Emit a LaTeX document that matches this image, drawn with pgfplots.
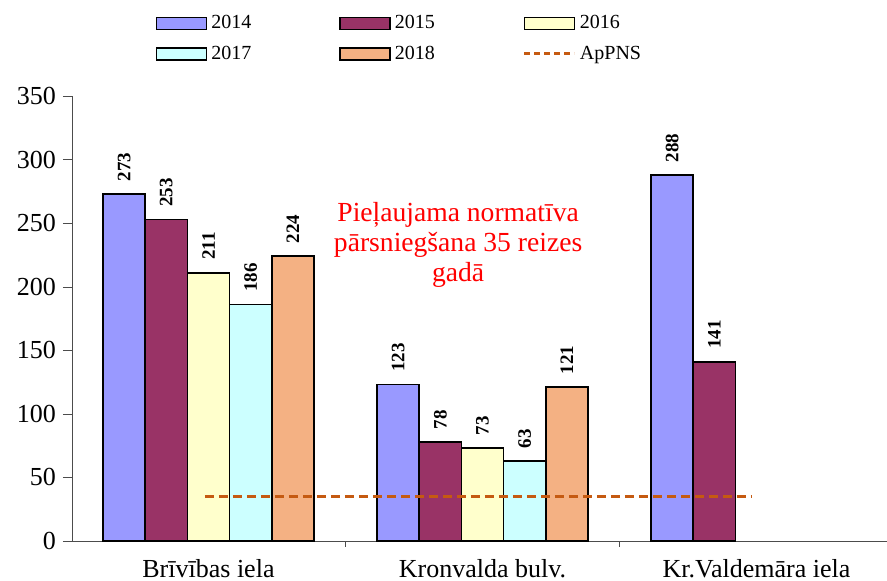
\documentclass[border=0pt]{standalone}
\usepackage{pgfplots}
\pgfplotsset{compat=1.18}
\usepackage{fontspec}
\setmainfont{Liberation Serif}
\definecolor{c14}{HTML}{9999FF}
\definecolor{c15}{HTML}{993366}
\definecolor{c16}{HTML}{FFFFCC}
\definecolor{c17}{HTML}{CCFFFF}
\definecolor{c18}{HTML}{F4B183}
\definecolor{cap}{HTML}{C55A11}
\begin{document}
\begin{tikzpicture}
\begin{axis}[
  scale only axis,
  anchor=south west, at={(0,0)},
  width=407.5pt, height=222.5pt,
  xmin=-0.498, xmax=2.476,
  ymin=0, ymax=350,
  axis x line=bottom, axis y line=left,
  axis line style={-, black!70},
  ytick={0,50,...,350},
  ytick style={black!70},
  tick align=outside,
  major tick length=4.5pt,
  xtick={0,1,2},
  xticklabels={Brīvības iela, Kronvalda bulv., Kr.Valdemāra iela},
  major x tick style={draw=none},
  minor xtick={0.5,1.5},
  minor tick length=3pt,
  minor x tick style={black!70},
  /pgf/number format/assume math mode=true,
  yticklabel style={font=\fontsize{13}{15}\selectfont},
  xticklabel style={font=\fontsize{13}{15}\selectfont, yshift=-1pt},
  ybar, bar width=0.154,
  every axis plot/.append style={draw=black, line width=0.8pt},
  nodes near coords,
  nodes near coords style={rotate=90, anchor=west, font=\bfseries\fontsize{9.5}{11}\selectfont, black, inner xsep=6pt, inner ysep=1pt},
  legend columns=3,
  legend cell align=left,
  legend style={draw=none, at={(0.403,1.0)}, anchor=south, yshift=12.75pt,
    font=\fontsize{10}{12}\selectfont, row sep=3pt,
    /tikz/every even column/.append style={column sep=42pt}},
  legend image code/.code={\draw[#1, line width=0.8pt] (0pt,-3pt) rectangle (25pt,3pt);},
  clip=false,
]
\addplot[fill=c14, bar shift=-0.308] coordinates {(0,273) (1,123) (2,288)};
\addlegendentry{2014}
\addplot[fill=c15, bar shift=-0.154] coordinates {(0,253) (1,78) (2,141)};
\addlegendentry{2015}
\addplot[fill=c16, bar shift=0] coordinates {(0,211) (1,73)};
\addlegendentry{2016}
\addplot[fill=c17, bar shift=0.154] coordinates {(0,186) (1,63)};
\addlegendentry{2017}
\addplot[fill=c18, bar shift=0.308] coordinates {(0,224) (1,121)};
\addlegendentry{2018}
\addplot[sharp plot, draw=cap, line width=1.5pt, dash pattern=on 4.5pt off 2.5pt, nodes near coords={}, 
  legend image code/.code={\draw[draw=cap, line width=1.5pt, dash pattern=on 3pt off 2pt] (0pt,0pt) -- (25pt,0pt);}]
  coordinates {(-0.013,35) (1.984,35)};
\addlegendentry{ApPNS}
\node[red, align=center, font=\fontsize{13.8}{15}\selectfont] at (axis cs:0.911,233) {Pieļaujama normatīva\\pārsniegšana 35 reizes\\gadā};
\end{axis}
\pgfresetboundingbox
\useasboundingbox (-36pt,-20pt) rectangle (407.5pt,270.5pt);
\end{tikzpicture}
\end{document}
